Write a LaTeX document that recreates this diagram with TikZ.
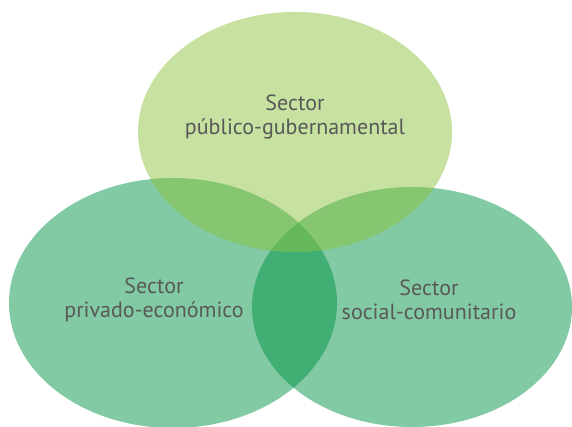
\documentclass[tikz,border=0pt]{standalone}
\usepackage{fontspec}
\setmainfont{PT Sans}
\usetikzlibrary{positioning}
\definecolor{sectorgreen}{HTML}{039547}
\definecolor{publicgreen}{HTML}{8DC341}
\definecolor{labelgray}{HTML}{595959}
\tikzset{
  sectorfill/.style={fill=sectorgreen, fill opacity=0.5},
  publicfill/.style={fill=publicgreen, fill opacity=0.5},
  sectorlabel/.style={align=center, text=labelgray, font=\fontsize{22}{24}\selectfont, inner sep=0pt}
}
\begin{document}
\begin{tikzpicture}[x=1pt, y=-1pt]
		\useasboundingbox (0,0) rectangle (572,427);
		% Lower circles
		\fill[sectorfill] (173,303) ellipse [x radius=164, y radius=125];
		\fill[sectorfill] (412,307) ellipse [x radius=160, y radius=120];
		% Upper circle
		\fill[publicfill] (295,132) ellipse [x radius=157, y radius=120];
		
		% Labels
		\node[sectorlabel] (publico) at (295,117) {Sector\\público-gubernamental};
		\node[sectorlabel] (privado) at (154,300) {Sector\\privado-económico};
		\node[sectorlabel] (social) at (429,300) {Sector\\social-comunitario};
	\end{tikzpicture}
\end{document}
